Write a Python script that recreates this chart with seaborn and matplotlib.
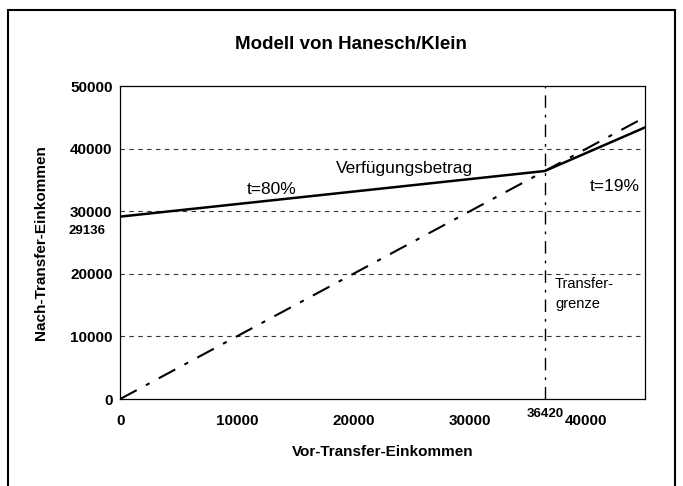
import matplotlib
matplotlib.use("Agg")
import matplotlib.pyplot as plt
import seaborn as sns
import pandas as pd
from matplotlib.patches import Rectangle
from matplotlib.ticker import MultipleLocator

# data
income_before = [0, 36420, 45000]
income_after = [29136, 36420, 43370]
diag_x = [0, 45000]
diag_y = [0, 45000]
transfer_limit = 36420
base_amount = 29136
y_ticks = [0, 10000, 20000, 30000, 40000, 50000]
x_ticks = [0, 10000, 20000, 30000, 40000]

sns.set_theme(style="white")
plt.rcParams['font.family'] = ['Liberation Sans', 'DejaVu Sans']
plt.rcParams['text.color'] = 'black'
plt.rcParams['axes.labelcolor'] = 'black'
plt.rcParams['xtick.color'] = 'black'
plt.rcParams['ytick.color'] = 'black'

fig = plt.figure(figsize=(6.83, 4.86), dpi=100)
ax = fig.add_axes([0.176, 0.179, 0.768, 0.644])

df_net = pd.DataFrame({"x": income_before, "y": income_after})
df_diag = pd.DataFrame({"x": diag_x, "y": diag_y})

sns.lineplot(data=df_net, x="x", y="y", ax=ax, color="black", linewidth=1.8)
sns.lineplot(data=df_diag, x="x", y="y", ax=ax, color="black", linewidth=1.5)
ax.lines[-1].set_dashes([9, 5, 2, 5])
ax.axvline(transfer_limit, color="black", linewidth=1.0, dashes=[9, 5, 2, 5])

for yv in y_ticks[1:-1]:
    ax.axhline(yv, color="#333333", linewidth=0.8, dashes=[4, 4], zorder=0)

ax.set_xlim(0, 45000)
ax.set_ylim(0, 50000)
ax.set_xticks(x_ticks)
ax.set_yticks(y_ticks)
ax.yaxis.set_minor_locator(MultipleLocator(5000))
ax.tick_params(axis="both", which="major", length=4, width=0.8,
               labelsize=11, direction="inout")
ax.tick_params(axis="y", which="minor", length=3, width=0.8, direction="in")
for lbl in ax.get_xticklabels() + ax.get_yticklabels():
    lbl.set_fontweight("bold")
ax.tick_params(axis="x", pad=9)
for sp in ax.spines.values():
    sp.set_visible(True)
    sp.set_color("black")
    sp.set_linewidth(0.9)

ax.set_xlabel("Vor-Transfer-Einkommen", fontsize=11, fontweight="bold", labelpad=12)
ax.set_ylabel("Nach-Transfer-Einkommen", fontsize=11, fontweight="bold", labelpad=16)
fig.text(0.514, 0.908, "Modell von Hanesch/Klein", ha="center", va="center",
         fontsize=13.5, fontweight="bold")

ax.text(13000, 33400, "t=80%", ha="center", va="center", fontsize=12.5)
ax.text(24400, 36800, "Verfügungsbetrag", ha="center", va="center", fontsize=12.5)
ax.text(42400, 34000, "t=19%", ha="center", va="center", fontsize=12.5)
ax.text(37300, 16800, "Transfer-\ngrenze", ha="left", va="center", fontsize=10.5,
        linespacing=1.6)
ax.text(-1300, base_amount - 1300, str(base_amount), ha="right", va="top",
        fontsize=9.5, fontweight="bold")
ax.text(transfer_limit, -1500, str(transfer_limit), ha="center", va="top",
        fontsize=9.5, fontweight="bold")

fig.patches.append(Rectangle((0.011, -0.05), 0.978, 1.029, transform=fig.transFigure,
                             fill=False, edgecolor="black", linewidth=1.5))

fig.savefig("out.png", dpi=100)
